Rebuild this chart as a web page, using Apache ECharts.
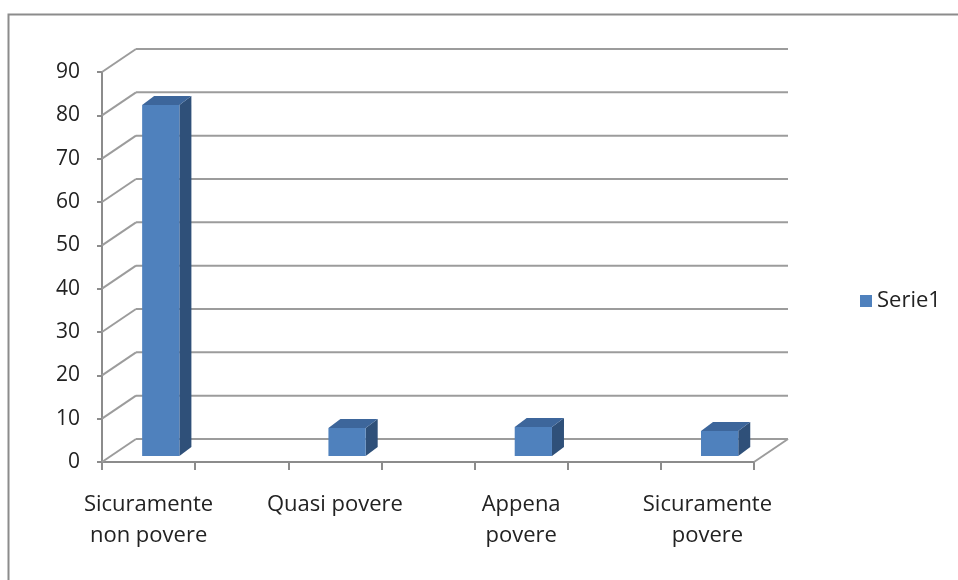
<!DOCTYPE html>
<html>
<head>
<meta charset="utf-8">
<script src="https://cdn.jsdelivr.net/npm/echarts@6/dist/echarts.min.js"></script>
<style>
  html, body { margin: 0; padding: 0; background: #fff; }
  #chart { width: 958px; height: 580px; }
</style>
</head>
<body>
<div id="chart"></div>
<script>
// categorie e valori
var categories = ['Sicuramente\nnon povere', 'Quasi povere', 'Appena\npovere', 'Sicuramente\npovere'];
var serie1 = [81, 6.5, 6.7, 5.8];
var yTicks = [0, 10, 20, 30, 40, 50, 60, 70, 80, 90];

// ogni categoria occupa due "slot" sull'asse, come nel grafico Excel
var axisSlots = [];
categories.forEach(function (c, i) {
  axisSlots.push(c);
  if (i < categories.length - 1) axisSlots.push('');
});

// profondità della scena 3D (pixel)
var DX = 34, DY = -23;
var BAR_DX = 12, BAR_DY = -9;
var FRONT = 0.3;

var chart = echarts.init(document.getElementById('chart'));

var option = {
  animation: false,
  textStyle: { fontFamily: 'Open Sans' },
  graphic: [{
    type: 'rect',
    left: 6, top: 12,
    shape: { width: 1000, height: 620 },
    style: { fill: 'none', stroke: '#8c8c8c', lineWidth: 2 }
  }],
  legend: {
    data: ['Serie1'],
    left: 855, top: 285,
    icon: 'rect',
    itemWidth: 12, itemHeight: 12,
    itemGap: 8,
    textStyle: { fontSize: 22, color: '#222', fontFamily: 'Open Sans' }
  },
  grid: { left: 102, right: 204, top: 72, bottom: 118 },
  xAxis: {
    type: 'category',
    data: axisSlots,
    boundaryGap: true,
    axisLine: { lineStyle: { color: '#8c8c8c', width: 2 } },
    axisTick: { show: true, length: 8, interval: 0, lineStyle: { color: '#8c8c8c', width: 2 } },
    axisLabel: {
      interval: 0, margin: 27, fontSize: 22, lineHeight: 31,
      color: '#222', align: 'center'
    },
    splitLine: { show: false }
  },
  yAxis: {
    type: 'value',
    min: 0, max: 90, interval: 10,
    axisLine: { show: true, lineStyle: { color: '#8c8c8c', width: 2 } },
    axisTick: { show: true, length: 5, lineStyle: { color: '#8c8c8c', width: 2 } },
    axisLabel: { margin: 22, fontSize: 21, color: '#222' },
    splitLine: { show: false }
  },
  series: [
    {
      // pareti di fondo e pavimento
      type: 'custom',
      silent: true,
      z: 1,
      data: yTicks.map(function (v) { return [0, v]; }),
      renderItem: function (params, api) {
        var cs = params.coordSys;
        var y = api.coord([0, api.value(1)])[1];
        var left = cs.x, right = cs.x + cs.width;
        var st = { stroke: '#9c9c9c', lineWidth: 2 };
        var children = [
          { type: 'line', shape: { x1: left, y1: y, x2: left + DX, y2: y + DY }, style: st },
          { type: 'line', shape: { x1: left + DX, y1: y + DY, x2: right + DX, y2: y + DY }, style: st }
        ];
        if (api.value(1) === 0) {
          children.push({ type: 'line', shape: { x1: right, y1: y, x2: right + DX, y2: y + DY }, style: st });
        }
        return { type: 'group', children: children };
      }
    },
    {
      name: 'Serie1',
      type: 'custom',
      z: 5,
      itemStyle: { color: '#4f81bd' },
      data: serie1.map(function (v, i) { return [i * 2, v]; }),
      renderItem: function (params, api) {
        var base = api.coord([api.value(0), 0]);
        var top = api.coord([api.value(0), api.value(1)]);
        var band = api.size([1, 0])[0];
        var w = band * 0.4;
        var cx = base[0] + FRONT * DX + 2;
        var x0 = cx - w / 2, x1 = cx + w / 2;
        var yb = base[1] + FRONT * DY + 1;
        var yt = top[1] + FRONT * DY + 1;
        return {
          type: 'group',
          children: [
            { type: 'polygon', shape: { points: [[x1, yb], [x1 + BAR_DX, yb + BAR_DY], [x1 + BAR_DX, yt + BAR_DY], [x1, yt]] },
              style: { fill: '#2f5079' } },
            { type: 'polygon', shape: { points: [[x0, yt], [x1, yt], [x1 + BAR_DX, yt + BAR_DY], [x0 + BAR_DX, yt + BAR_DY]] },
              style: { fill: '#3d669b' } },
            { type: 'rect', shape: { x: x0, y: yt, width: w, height: yb - yt },
              style: { fill: '#4f81bd' } }
          ]
        };
      }
    }
  ]
};

chart.setOption(option);
</script>
</body>
</html>
